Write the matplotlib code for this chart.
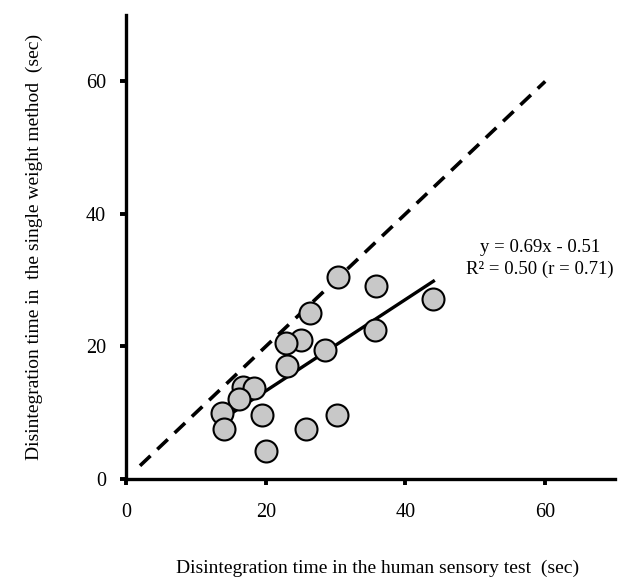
import matplotlib
matplotlib.use("Agg")
import matplotlib.pyplot as plt
import numpy as np

# disintegration times (sec): human sensory test vs single weight method
human = [30.3, 35.8, 44.0, 26.4, 25.1, 22.9, 28.5, 35.6, 23.0,
         16.8, 18.3, 16.2, 13.7, 14.0, 19.4, 25.8, 30.2, 20.0]
single = [30.5, 29.1, 27.1, 25.1, 21.0, 20.5, 19.5, 22.5, 17.1,
          13.9, 13.7, 12.1, 10.0, 7.5, 9.7, 7.6, 9.7, 4.2]

slope, intercept = 0.69, -0.51
fit_x = [13.5, 44.0]
ident_x = [2, 60]
ticks = [0, 20, 40, 60]

plt.rcParams.update({"font.family": ["Liberation Serif", "DejaVu Serif"],
                     "font.size": 14})

fig = plt.figure(figsize=(6.19, 5.83), dpi=100)
ax = fig.add_axes([0.2036, 0.1784, 0.79, 0.7956])

ax.plot(ident_x, ident_x, color="black", lw=2.6, ls=(0, (4, 2.6)), zorder=2)
fx = np.array(fit_x)
ax.plot(fx, slope * fx + intercept, color="black", lw=2.4, zorder=2)
ax.scatter(human, single, s=250, facecolor="#c8c8c8", edgecolor="black",
           lw=1.5, zorder=3)

ax.text(59.3, 35.0, "y = 0.69x - 0.51", ha="center", va="center", fontsize=13.5)
ax.text(59.3, 31.7, "R² = 0.50 (r = 0.71)", ha="center", va="center", fontsize=13.5)

ax.set_xlim(0, 70)
ax.set_ylim(0, 70)
ax.set_xticks(ticks)
ax.set_yticks(ticks)
for s in ("top", "right"):
    ax.spines[s].set_visible(False)
for s in ("left", "bottom"):
    ax.spines[s].set_linewidth(2.4)
ax.tick_params(direction="out", length=4.5, width=2.8, labelsize=14.5)
ax.tick_params(axis="x", pad=13)
ax.tick_params(axis="y", pad=10)

ax.set_xlabel("Disintegration time in the human sensory test  (sec)", labelpad=24)
ax.xaxis.set_label_coords(0.515, -0.175)
ax.set_ylabel("Disintegration time in  the single weight method  (sec)")
ax.yaxis.set_label_coords(-0.17, 0.5)

fig.savefig("out.png", dpi=100)
